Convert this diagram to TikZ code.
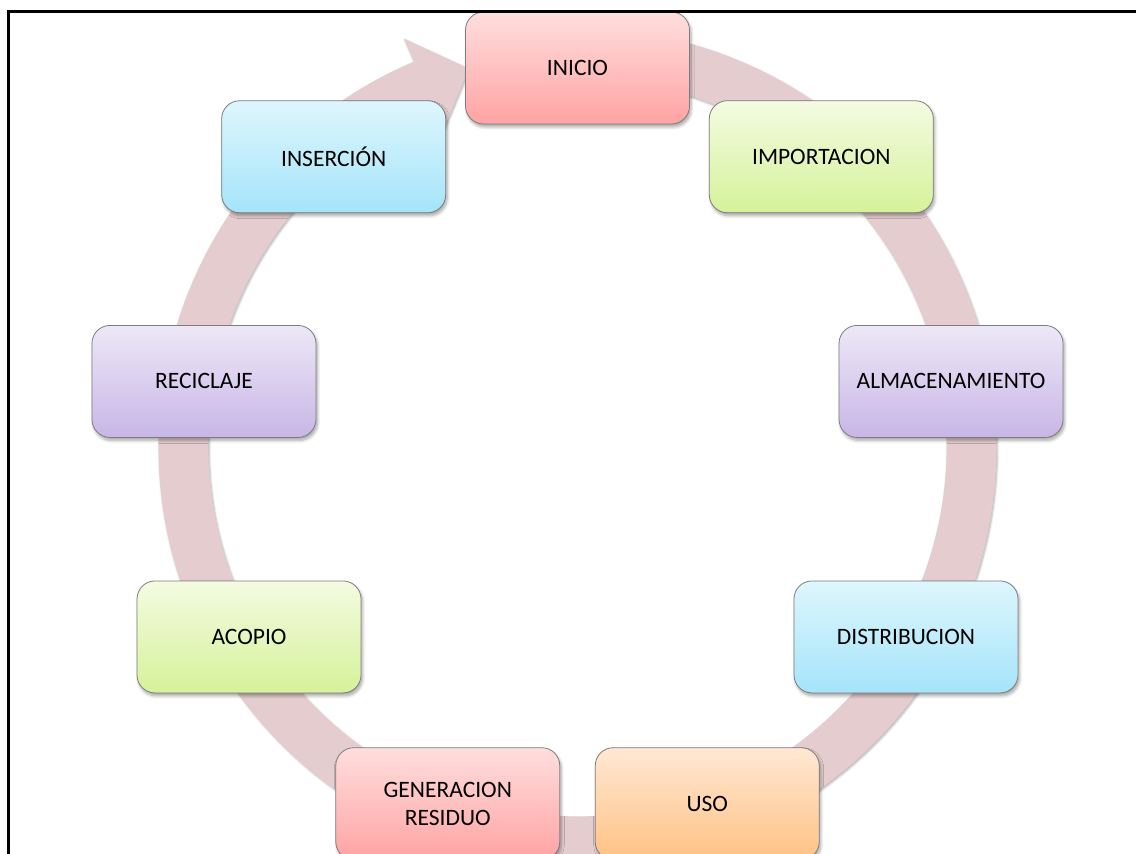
\documentclass[tikz,border=0pt]{standalone}
\usepackage{fontspec}
\setmainfont{Carlito}
\usetikzlibrary{shadows.blur,calc}

\definecolor{pinkTop}{RGB}{255,222,222}
\definecolor{pinkBot}{RGB}{255,163,163}
\definecolor{limeTop}{RGB}{244,251,226}
\definecolor{limeBot}{RGB}{213,242,153}
\definecolor{lilacTop}{RGB}{237,232,247}
\definecolor{lilacBot}{RGB}{200,182,230}
\definecolor{skyTop}{RGB}{222,246,253}
\definecolor{skyBot}{RGB}{165,228,250}
\definecolor{peachTop}{RGB}{255,232,212}
\definecolor{peachBot}{RGB}{255,194,133}
\definecolor{ringFill}{RGB}{229,205,207}
\definecolor{boxEdge}{RGB}{125,125,125}

\tikzset{
  stage/.style={draw=boxEdge, line width=0.8pt, rounded corners=18pt,
    minimum width=224pt, minimum height=112pt, align=center, text=black,
    font=\fontsize{23.5}{28}\selectfont,
    blur shadow={shadow xshift=1.5pt, shadow yshift=-3pt,
      shadow blur steps=6, shadow blur radius=3pt, shadow opacity=35}},
  pinkbox/.style={stage, top color=pinkTop, bottom color=pinkBot},
  limebox/.style={stage, top color=limeTop, bottom color=limeBot},
  lilacbox/.style={stage, top color=lilacTop, bottom color=lilacBot},
  skybox/.style={stage, top color=skyTop, bottom color=skyBot},
  peachbox/.style={stage, top color=peachTop, bottom color=peachBot},
  ringarrow/.style={fill=ringFill,
    blur shadow={shadow xshift=1pt, shadow yshift=-1.5pt,
      shadow blur steps=4, shadow blur radius=2pt, shadow opacity=30}},
  framerule/.style={line width=3pt, black}
}

\begin{document}
\begin{tikzpicture}[x=1pt,y=1pt]
\useasboundingbox (0,0) rectangle (1136,854);
\clip (0,0) rectangle (1136,854);

\coordinate (c) at (577.5,406.7);
\def\R{379.3}

% wide ring arrow running clockwise, head pointing at the first stage
\path[ringarrow]
  ($(c)+(85:419)$) arc[start angle=85, end angle=-247, radius=419]
  -- ($(c)+(-247:444)$) -- ($(c)+(-254:394)$) -- ($(c)+(-247:344)$)
  -- ($(c)+(-247:369)$) arc[start angle=-247, end angle=85, radius=369]
  -- cycle;

% the nine stages of the cycle
\node[pinkbox]  (inicio)      at ($(c)+(90:\R)$)   {INICIO};
\node[limebox]  (importacion) at ($(c)+(50:\R)$)   {IMPORTACION};
\node[lilacbox] (almacen)     at ($(c)+(10:\R)$)   {ALMACENAMIENTO};
\node[skybox]   (distrib)     at ($(c)+(-30:\R)$)  {DISTRIBUCION};
\node[peachbox] (uso)         at ($(c)+(-70:\R)$)  {USO};
\node[pinkbox]  (generacion)  at ($(c)+(-110:\R)$) {GENERACION\\RESIDUO};
\node[limebox]  (acopio)      at ($(c)+(-150:\R)$) {ACOPIO};
\node[lilacbox] (reciclaje)   at ($(c)+(170:\R)$)  {RECICLAJE};
\node[skybox]   (insercion)   at ($(c)+(130:\R)$)  {INSERCIÓN};

% outer frame
\draw[framerule] (8,-5) -- (8,842) -- (1145,842);
\end{tikzpicture}
\end{document}
